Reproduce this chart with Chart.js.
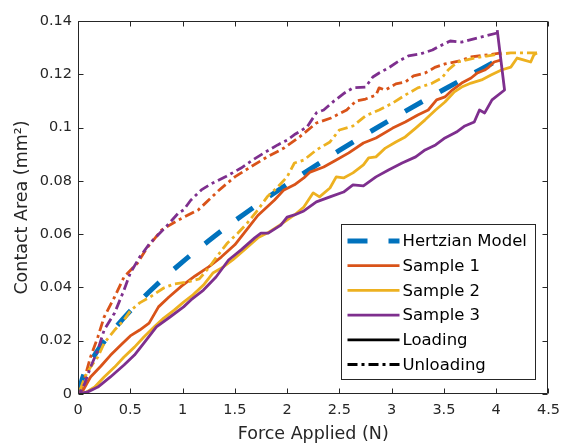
<!DOCTYPE html>
<html>
<head>
<meta charset="utf-8">
<script src="https://cdn.jsdelivr.net/npm/chart.js@4/dist/chart.umd.min.js"></script>
<style>
  html, body { margin: 0; padding: 0; background: #fff; }
  #wrap { width: 568px; height: 445px; }
</style>
</head>
<body>
<div id="wrap"><canvas id="myChart"></canvas></div>
<script>
// axis ticks
const xTicks = [0, 0.5, 1, 1.5, 2, 2.5, 3, 3.5, 4, 4.5];
const xTickLabels = ['0', '0.5', '1', '1.5', '2', '2.5', '3', '3.5', '4', '4.5'];
const yTicks = [0, 0.02, 0.04, 0.06, 0.08, 0.1, 0.12, 0.14];
const yTickLabels = ['0', '0.02', '0.04', '0.06', '0.08', '0.1', '0.12', '0.14'];

// Hertzian model
const hertzF = [0, 0.05, 0.1, 0.2, 0.3, 0.5, 0.75, 1, 1.25, 1.5, 2, 2.5, 3, 3.5, 4.02];
const hertzA = [0, 0.0067, 0.0107, 0.0170, 0.0222, 0.0312, 0.0409, 0.0496, 0.0575, 0.0650, 0.0787, 0.0914, 0.1032, 0.1143, 0.1254];

// sample 1
const s1LoadF = [0, 0.05, 0.12, 0.22, 0.31, 0.41, 0.50, 0.59, 0.68, 0.77, 0.87, 0.99, 1.12, 1.25, 1.37, 1.50, 1.62, 1.72, 1.88, 1.97, 2.07, 2.16, 2.22, 2.35, 2.47, 2.59, 2.73, 2.85, 3.01, 3.13, 3.25, 3.35, 3.43, 3.51, 3.58, 3.67, 3.76, 3.82, 3.89, 3.93, 3.98, 4.05];
const s1LoadA = [0, 0.0015, 0.0064, 0.0105, 0.0145, 0.0184, 0.0218, 0.0240, 0.0266, 0.0327, 0.0364, 0.0405, 0.0443, 0.0477, 0.0514, 0.0560, 0.0620, 0.0670, 0.0728, 0.0766, 0.0785, 0.0811, 0.0833, 0.0852, 0.0878, 0.0905, 0.0942, 0.0961, 0.0998, 0.1021, 0.1047, 0.1066, 0.1104, 0.1115, 0.1141, 0.1167, 0.1186, 0.1205, 0.1216, 0.1227, 0.1246, 0.1254];
const s1UnloadF = [4.05, 3.92, 3.76, 3.65, 3.51, 3.42, 3.32, 3.21, 3.13, 3.04, 2.94, 2.88, 2.85, 2.75, 2.66, 2.57, 2.42, 2.28, 2.12, 1.97, 1.81, 1.65, 1.50, 1.34, 1.25, 1.15, 0.96, 0.80, 0.66, 0.57, 0.44, 0.35, 0.25, 0.19, 0.12, 0.066, 0.028, 0];
const s1UnloadA = [0.1280, 0.1273, 0.1265, 0.1250, 0.1239, 0.1227, 0.1205, 0.1194, 0.1171, 0.1164, 0.1141, 0.1149, 0.1122, 0.1107, 0.1100, 0.1066, 0.1036, 0.1017, 0.0965, 0.0923, 0.0890, 0.0852, 0.0815, 0.0762, 0.0728, 0.0691, 0.0653, 0.0616, 0.0548, 0.0492, 0.0439, 0.0364, 0.0289, 0.0214, 0.0139, 0.0064, 0.0015, 0];

// sample 2
const s2LoadF = [0, 0.066, 0.16, 0.25, 0.35, 0.44, 0.54, 0.63, 0.73, 0.82, 0.92, 1.01, 1.10, 1.20, 1.29, 1.39, 1.48, 1.59, 1.72, 1.81, 1.93, 2.07, 2.16, 2.25, 2.31, 2.41, 2.47, 2.54, 2.63, 2.73, 2.78, 2.85, 2.94, 3.04, 3.13, 3.23, 3.32, 3.42, 3.51, 3.60, 3.67, 3.76, 3.86, 3.95, 4.05, 4.14, 4.20, 4.26, 4.33, 4.36, 4.39];
const s2LoadA = [0, 0.0004, 0.0026, 0.0064, 0.0101, 0.0139, 0.0176, 0.0214, 0.0252, 0.0285, 0.0315, 0.0345, 0.0372, 0.0409, 0.0454, 0.0477, 0.0503, 0.0541, 0.0586, 0.0604, 0.0634, 0.0672, 0.0702, 0.0755, 0.0740, 0.0773, 0.0815, 0.0811, 0.0830, 0.0860, 0.0886, 0.0890, 0.0923, 0.0946, 0.0965, 0.0998, 0.1029, 0.1066, 0.1096, 0.1134, 0.1152, 0.1167, 0.1179, 0.1197, 0.1216, 0.1227, 0.1261, 0.1254, 0.1246, 0.1273, 0.1280];
const s2UnloadF = [4.39, 4.14, 3.98, 3.79, 3.63, 3.54, 3.48, 3.39, 3.25, 3.13, 3.01, 2.88, 2.75, 2.63, 2.50, 2.41, 2.28, 2.16, 2.07, 2.00, 1.91, 1.81, 1.72, 1.62, 1.53, 1.43, 1.34, 1.25, 1.16, 1.04, 0.92, 0.82, 0.69, 0.59, 0.50, 0.44, 0.35, 0.25, 0.19, 0.12, 0.066, 0.02, 0];
const s2UnloadA = [0.1280, 0.1280, 0.1273, 0.1261, 0.1246, 0.1216, 0.1186, 0.1167, 0.1149, 0.1122, 0.1092, 0.1066, 0.1044, 0.1006, 0.0991, 0.0946, 0.0916, 0.0878, 0.0867, 0.0815, 0.0777, 0.0740, 0.0691, 0.0642, 0.0604, 0.0567, 0.0522, 0.0473, 0.0432, 0.0420, 0.0413, 0.0398, 0.0364, 0.0342, 0.0312, 0.0278, 0.0240, 0.0191, 0.0139, 0.0101, 0.0064, 0.0015, 0];

// sample 3
const s3LoadF = [0, 0.047, 0.094, 0.19, 0.31, 0.44, 0.54, 0.63, 0.75, 0.88, 1.01, 1.08, 1.20, 1.32, 1.44, 1.56, 1.69, 1.75, 1.82, 1.94, 2.00, 2.07, 2.16, 2.28, 2.41, 2.54, 2.63, 2.73, 2.85, 2.97, 3.10, 3.23, 3.32, 3.42, 3.51, 3.62, 3.70, 3.79, 3.84, 3.89, 3.96, 4.08, 4.01];
const s3LoadA = [0, 0.0004, 0.0008, 0.0026, 0.0064, 0.0109, 0.0146, 0.0191, 0.0252, 0.0289, 0.0327, 0.0353, 0.0390, 0.0439, 0.0503, 0.0541, 0.0586, 0.0604, 0.0604, 0.0634, 0.0664, 0.0672, 0.0687, 0.0721, 0.0740, 0.0758, 0.0785, 0.0781, 0.0815, 0.0841, 0.0867, 0.0890, 0.0916, 0.0935, 0.0961, 0.0983, 0.1006, 0.1021, 0.1066, 0.1055, 0.1104, 0.1141, 0.1366];
const s3UnloadF = [4.01, 3.82, 3.67, 3.56, 3.46, 3.39, 3.27, 3.16, 3.07, 2.97, 2.88, 2.82, 2.75, 2.63, 2.55, 2.45, 2.35, 2.28, 2.19, 2.08, 2.00, 1.91, 1.78, 1.67, 1.56, 1.41, 1.27, 1.18, 1.08, 1.01, 0.96, 0.84, 0.69, 0.59, 0.50, 0.44, 0.35, 0.25, 0.19, 0.12, 0.066, 0.02, 0];
const s3UnloadA = [0.1355, 0.1336, 0.1321, 0.1325, 0.1306, 0.1291, 0.1276, 0.1269, 0.1250, 0.1224, 0.1205, 0.1190, 0.1152, 0.1149, 0.1130, 0.1100, 0.1066, 0.1055, 0.1002, 0.0976, 0.0953, 0.0935, 0.0905, 0.0878, 0.0848, 0.0815, 0.0788, 0.0766, 0.0728, 0.0691, 0.0679, 0.0627, 0.0567, 0.0514, 0.0454, 0.0390, 0.0304, 0.0240, 0.0165, 0.0101, 0.0041, 0.0004, 0];

const legendLabels = ['Hertzian Model', 'Sample 1', 'Sample 2', 'Sample 3', 'Loading', 'Unloading'];

const BLUE = '#0072BD', ORANGE = '#D95319', YELLOW = '#EDB120', PURPLE = '#7E2F8E';
const AXIS = '#262626';
const FONT = 'DejaVu Sans';
const DASHDOT = [10, 4, 3, 4];
const LW = 2.8;

const pts = (xs, ys) => xs.map((x, i) => ({ x: x, y: ys[i] }));

const line = (label, xs, ys, color, dash, order) => ({
  label: label,
  data: pts(xs, ys),
  borderColor: color,
  backgroundColor: color,
  borderWidth: LW,
  borderDash: dash,
  borderCapStyle: 'butt',
  borderJoinStyle: 'round',
  showLine: true,
  pointRadius: 0,
  pointHoverRadius: 0,
  tension: 0,
  order: order
});

const datasets = [
  line('Sample 3 loading', s3LoadF, s3LoadA, PURPLE, [], 0),
  line('Sample 3 unloading', s3UnloadF, s3UnloadA, PURPLE, DASHDOT, 0),
  line('Sample 2 loading', s2LoadF, s2LoadA, YELLOW, [], 1),
  line('Sample 2 unloading', s2UnloadF, s2UnloadA, YELLOW, DASHDOT, 1),
  line('Sample 1 loading', s1LoadF, s1LoadA, ORANGE, [], 2),
  line('Sample 1 unloading', s1UnloadF, s1UnloadA, ORANGE, DASHDOT, 2),
  Object.assign(line('Hertzian Model', hertzF, hertzA, BLUE, [20, 20], 5), {
    borderWidth: 5,
    cubicInterpolationMode: 'monotone'
  })
];

// box around the axes with inward ticks
const framePlugin = {
  id: 'frame',
  afterDatasetsDraw(chart) {
    const { ctx, chartArea: a, scales: { x, y } } = chart;
    const L = Math.round(a.left) + 0.5, R = Math.round(a.right) - 0.5;
    const T = Math.round(a.top) + 0.5, B = Math.round(a.bottom) - 0.5;
    const tl = 5;
    ctx.save();
    ctx.strokeStyle = AXIS;
    ctx.lineWidth = 1;
    ctx.beginPath();
    ctx.rect(L, T, R - L, B - T);
    xTicks.forEach(v => {
      const px = Math.round(x.getPixelForValue(v)) + 0.5;
      ctx.moveTo(px, B); ctx.lineTo(px, B - tl);
      ctx.moveTo(px, T); ctx.lineTo(px, T + tl);
    });
    yTicks.forEach(v => {
      const py = Math.round(y.getPixelForValue(v)) + 0.5;
      ctx.moveTo(L, py); ctx.lineTo(L + tl, py);
      ctx.moveTo(R, py); ctx.lineTo(R - tl, py);
    });
    ctx.stroke();
    ctx.restore();
  }
};

// MATLAB style legend inside the axes, lower right
const legendPlugin = {
  id: 'matLegend',
  afterDraw(chart) {
    const { ctx, chartArea: a } = chart;
    const styles = [
      { color: BLUE, dash: [20, 21], width: 5 },
      { color: ORANGE, dash: [], width: LW },
      { color: YELLOW, dash: [], width: LW },
      { color: PURPLE, dash: [], width: LW },
      { color: '#000', dash: [], width: LW },
      { color: '#000', dash: DASHDOT, width: LW }
    ];
    const w = 194, h = 155;
    const bx = Math.round(a.right - 13 - w) + 0.5;
    const by = Math.round(a.bottom - 15 - h) + 0.5;
    ctx.save();
    ctx.fillStyle = '#fff';
    ctx.fillRect(bx, by, w, h);
    ctx.strokeStyle = AXIS;
    ctx.lineWidth = 1;
    ctx.strokeRect(bx, by, w, h);
    ctx.font = '16.5px "' + FONT + '"';
    ctx.textBaseline = 'middle';
    ctx.textAlign = 'left';
    legendLabels.forEach((txt, i) => {
      const cy = by + 16.5 + i * 24.7;
      const st = styles[i];
      ctx.beginPath();
      ctx.setLineDash(st.dash);
      ctx.lineCap = 'butt';
      ctx.strokeStyle = st.color;
      ctx.lineWidth = st.width;
      ctx.moveTo(bx + 6, cy);
      ctx.lineTo(bx + 58, cy);
      ctx.stroke();
      ctx.setLineDash([]);
      ctx.fillStyle = '#000';
      ctx.fillText(txt, bx + 61, cy + 1);
    });
    ctx.restore();
  }
};

const config = {
  type: 'scatter',
  data: { datasets: datasets },
  options: {
    responsive: true,
    maintainAspectRatio: false,
    animation: false,
    layout: { padding: { left: 0, right: 13, top: 21, bottom: 0 } },
    plugins: {
      legend: { display: false },
      tooltip: { enabled: false }
    },
    scales: {
      x: {
        type: 'linear',
        min: 0,
        max: 4.5,
        afterBuildTicks: s => { s.ticks = xTicks.map(v => ({ value: v })); },
        afterFit: s => { s.height = 51; },
        grid: { display: false, drawTicks: false },
        border: { display: false },
        ticks: {
          padding: 8,
          color: AXIS,
          font: { family: FONT, size: 14.5 },
          maxRotation: 0,
          callback: (v, i) => xTickLabels[i]
        },
        title: {
          display: true,
          text: 'Force Applied (N)',
          color: AXIS,
          font: { family: FONT, size: 17.5 },
          padding: { top: 0, bottom: 0 }
        }
      },
      y: {
        type: 'linear',
        min: 0,
        max: 0.14,
        afterBuildTicks: s => { s.ticks = yTicks.map(v => ({ value: v })); },
        afterFit: s => { s.width = 78; },
        grid: { display: false, drawTicks: false },
        border: { display: false },
        ticks: {
          padding: 6,
          color: AXIS,
          font: { family: FONT, size: 14.5 },
          callback: (v, i) => yTickLabels[i]
        },
        title: {
          display: true,
          text: 'Contact Area (mm²)',
          color: AXIS,
          font: { family: FONT, size: 17.5 },
          padding: { top: 12, bottom: 0 }
        }
      }
    }
  },
  plugins: [framePlugin, legendPlugin]
};

const myChart = new Chart(document.getElementById('myChart'), config);
</script>
</body>
</html>
